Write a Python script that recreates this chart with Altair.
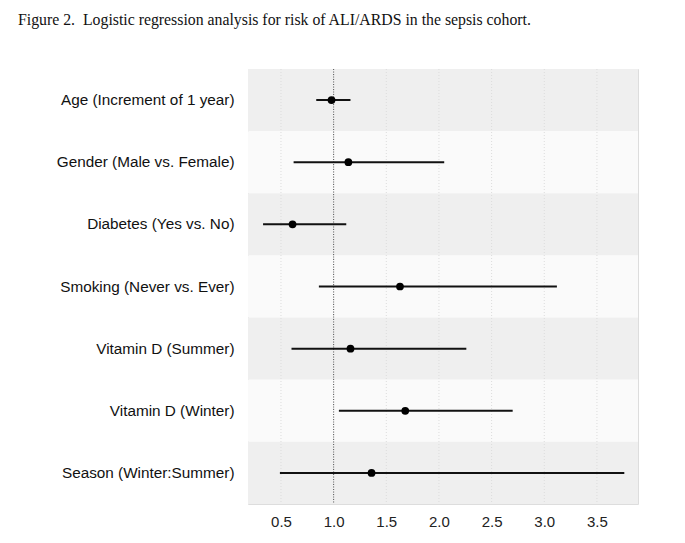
import altair as alt
import pandas as pd

labels = [
    "Age (Increment of 1 year)",
    "Gender (Male vs. Female)",
    "Diabetes (Yes vs. No)",
    "Smoking (Never vs. Ever)",
    "Vitamin D (Summer)",
    "Vitamin D (Winter)",
    "Season (Winter:Summer)",
]
odds = [0.98, 1.14, 0.61, 1.63, 1.16, 1.68, 1.36]
lower = [0.835, 0.62, 0.33, 0.86, 0.60, 1.05, 0.49]
upper = [1.16, 2.05, 1.12, 3.12, 2.26, 2.70, 3.76]
x_ticks = [0.5, 1.0, 1.5, 2.0, 2.5, 3.0, 3.5]
ref_value = [1.0]

df = pd.DataFrame({
    "label": labels,
    "or": odds,
    "lo": lower,
    "hi": upper,
    "band": [i % 2 for i in range(len(labels))],
})
grid_df = pd.DataFrame({"t": x_ticks})
ref_df = pd.DataFrame({"t": ref_value})

W, H = 390, 435
xscale = alt.Scale(domain=[0.187, 3.89], nice=False, zero=False)
yscale = alt.Scale(domain=labels, paddingInner=0, paddingOuter=0)

ax_x = alt.Axis(values=x_ticks, format=".1f", grid=False, domain=False, ticks=False,
                labelFont="Liberation Sans", labelFontSize=15, labelColor="#222222",
                labelPadding=10, title=None)
ax_y = alt.Axis(domain=False, ticks=False, grid=False, labelFont="Liberation Sans",
                labelFontSize=15.3, labelColor="#111111", labelPadding=14, title=None,
                labelLimit=300)

bands = alt.Chart(df).mark_rect(strokeWidth=0).encode(
    y=alt.Y("label:N", scale=yscale, axis=ax_y, sort=labels),
    x=alt.value(0),
    x2=alt.value(W),
    fill=alt.Fill("band:N", scale=alt.Scale(domain=[0, 1], range=["#efefef", "#fafafa"]), legend=None),
)

grid = alt.Chart(grid_df).mark_rule(color="#dcdcdc", strokeWidth=1, strokeDash=[1, 2]).encode(
    x=alt.X("t:Q", scale=xscale, axis=ax_x),
)

ref = alt.Chart(ref_df).mark_rule(color="#555555", strokeWidth=1, strokeDash=[1, 1.5]).encode(
    x=alt.X("t:Q", scale=xscale),
)

ci = alt.Chart(df).mark_rule(color="#111111", strokeWidth=2).encode(
    y=alt.Y("label:N", scale=yscale, sort=labels),
    x=alt.X("lo:Q", scale=xscale),
    x2="hi:Q",
)

pts = alt.Chart(df).mark_circle(color="#000000", opacity=1, size=60).encode(
    y=alt.Y("label:N", scale=yscale, sort=labels),
    x=alt.X("or:Q", scale=xscale),
)

chart = alt.layer(bands, grid, ref, ci, pts).properties(
    width=W,
    height=H,
    title=alt.TitleParams(
        "Figure 2.\u00a0 Logistic regression analysis for risk of ALI/ARDS in the sepsis cohort.",
        anchor="start", frame="group", dx=-230, offset=40,
        font="Liberation Serif", fontSize=15.8, fontWeight="normal", color="#111111",
    ),
    autosize=alt.AutoSizeParams(type="none"),
    padding={"left": 240, "top": 61, "right": 39, "bottom": 31},
).configure_view(stroke=None).configure(background="white")

chart.save("out.html", embed_options={"renderer": "svg", "actions": False})
